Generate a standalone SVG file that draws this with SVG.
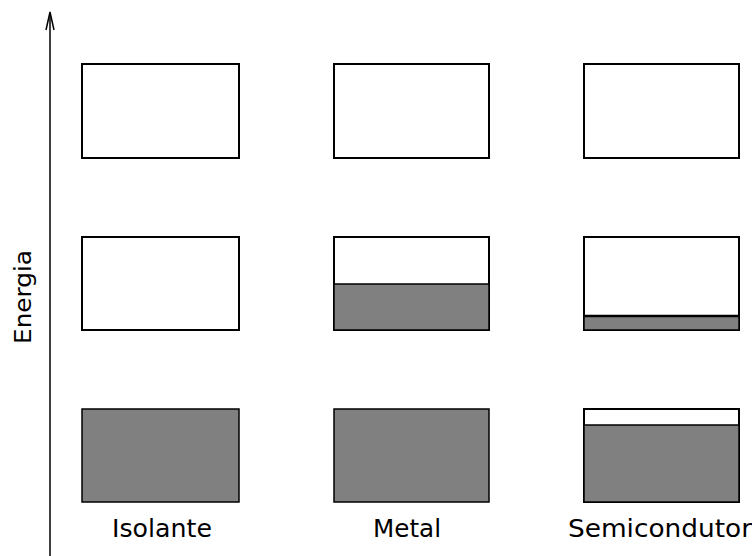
<svg xmlns="http://www.w3.org/2000/svg" width="752" height="556" viewBox="0 0 752 556">
<style>
.box{fill:#fff;stroke:#000;stroke-width:2}
.fill{fill:#808080;stroke:#000;stroke-width:1.5}
.lbl{font-family:"DejaVu Sans",sans-serif;font-size:25px;fill:#000}
</style>
<rect width="752" height="556" fill="#fff"/>
<g id="axis">
<line x1="50" y1="556" x2="50" y2="14" stroke="#000" stroke-width="1.5"/>
<path d="M46,30 L50,12 L54,30" fill="none" stroke="#000" stroke-width="1.5"/>
<text class="lbl" transform="translate(31,297) rotate(-90)" text-anchor="middle" style="font-size:23px" textLength="94" lengthAdjust="spacingAndGlyphs">Energia</text>
</g>
<g id="isolante">
<rect class="box" x="82" y="64" width="157" height="94"/>
<rect class="box" x="82" y="237" width="157" height="93"/>
<rect class="fill" x="82" y="409" width="157" height="93"/>
<text class="lbl" x="112" y="537" textLength="100" lengthAdjust="spacingAndGlyphs">Isolante</text>
</g>
<g id="metal">
<rect class="box" x="334" y="64" width="155" height="94"/>
<rect class="box" x="334" y="237" width="155" height="93"/>
<rect class="fill" x="334" y="284" width="155" height="46"/>
<rect class="fill" x="334" y="409" width="155" height="93"/>
<text class="lbl" x="373" y="537" textLength="68" lengthAdjust="spacingAndGlyphs">Metal</text>
</g>
<g id="semicondutor">
<rect class="box" x="584" y="64" width="155" height="94"/>
<rect class="box" x="584" y="237" width="155" height="93"/>
<rect class="fill" x="584" y="316" width="155" height="14"/>
<line x1="584" y1="316" x2="739" y2="316" stroke="#000" stroke-width="2.5"/>
<rect class="box" x="584" y="409" width="155" height="93"/>
<rect class="fill" x="584" y="425" width="155" height="77"/>
<text class="lbl" x="568" y="537" textLength="184" lengthAdjust="spacingAndGlyphs">Semicondutor</text>
</g>
</svg>
